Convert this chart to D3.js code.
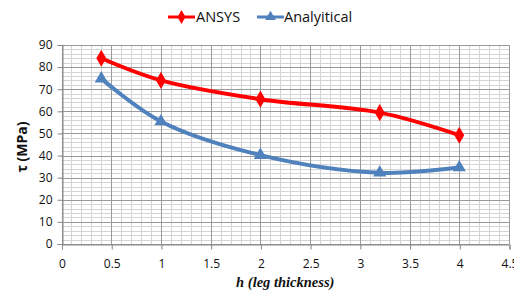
<!DOCTYPE html>
<html>
<head>
<meta charset="utf-8">
<script src="https://cdn.jsdelivr.net/npm/d3@7"></script>
<style>
body { margin: 0; background: #fff; }
svg { display: block; }
</style>
</head>
<body>
<svg width="514" height="293"></svg>
<script>
var width = 514, height = 293;

var hValues = [0.4, 1, 2, 3.2, 4];
var ansys = [84, 74, 65.5, 59.4, 49.2];
var analytical = [74.8, 55.4, 40.2, 32.2, 34.6];
var seriesNames = ["ANSYS", "Analyitical"];
var xTicks = [0, 0.5, 1, 1.5, 2, 2.5, 3, 3.5, 4, 4.5];
var yTicks = [0, 10, 20, 30, 40, 50, 60, 70, 80, 90];

var margin = {left: 61.5, right: 5, top: 45, bottom: 49};

var svg = d3.select('svg');

var x = d3.scaleLinear().domain([0, 4.5]).range([margin.left, width - margin.right]);
var y = d3.scaleLinear().domain([0, 90]).range([height - margin.bottom, margin.top]);

var g = svg.append('g');

// minor grid
g.selectAll('.vminor').data(d3.range(0, 45.01, 1).map(function(d) { return d / 10; }))
  .enter().append('line')
  .attr('x1', function(d) { return Math.round(x(d)) + 0.5; })
  .attr('x2', function(d) { return Math.round(x(d)) + 0.5; })
  .attr('y1', y(0)).attr('y2', y(90))
  .attr('stroke', '#d4d4d4').attr('stroke-width', 1);

g.selectAll('.hminor').data(d3.range(0, 91, 2))
  .enter().append('line')
  .attr('y1', function(d) { return Math.round(y(d)) + 0.5; })
  .attr('y2', function(d) { return Math.round(y(d)) + 0.5; })
  .attr('x1', x(0)).attr('x2', x(4.5))
  .attr('stroke', '#d4d4d4').attr('stroke-width', 1);

// major grid
g.selectAll('.vmajor').data(xTicks)
  .enter().append('line')
  .attr('x1', function(d) { return Math.round(x(d)) + 0.5; })
  .attr('x2', function(d) { return Math.round(x(d)) + 0.5; })
  .attr('y1', y(0)).attr('y2', y(90))
  .attr('stroke', '#9a9a9a').attr('stroke-width', 1);

g.selectAll('.hmajor').data(yTicks)
  .enter().append('line')
  .attr('y1', function(d) { return Math.round(y(d)) + 0.5; })
  .attr('y2', function(d) { return Math.round(y(d)) + 0.5; })
  .attr('x1', x(0)).attr('x2', x(4.5))
  .attr('stroke', '#9a9a9a').attr('stroke-width', 1);

// axes
var xAxis = d3.axisBottom(x).tickValues(xTicks).tickSize(5).tickFormat(d3.format('~g'));
var yAxis = d3.axisLeft(y).tickValues(yTicks).tickSize(5);

var gx = svg.append('g')
  .attr('transform', 'translate(0.5,' + (Math.round(y(0)) + 0.5) + ')')
  .call(xAxis);
var gy = svg.append('g')
  .attr('transform', 'translate(' + (Math.round(x(0)) + 0.5) + ',0)')
  .call(yAxis);

[gx, gy].forEach(function(a) {
  a.select('.domain').attr('stroke', '#888');
  a.selectAll('.tick line').attr('stroke', '#888');
  a.selectAll('.tick text')
    .attr('font-family', 'Open Sans, sans-serif')
    .attr('font-size', 12)
    .attr('fill', '#111');
});
gx.selectAll('.tick text').attr('dy', '1.3em');
gy.selectAll('.tick text').attr('dx', '-2');

// lines
var line = d3.line()
  .x(function(d) { return x(d[0]); })
  .y(function(d) { return y(d[1]); })
  .curve(d3.curveCatmullRom.alpha(0.5));

var series = [
  {name: seriesNames[0], values: ansys, color: '#ff0000', marker: d3.symbolDiamond},
  {name: seriesNames[1], values: analytical, color: '#4f81bd', marker: d3.symbolTriangle}
];

series.forEach(function(s) {
  var pts = hValues.map(function(h, i) { return [h, s.values[i]]; });
  g.append('path')
    .attr('d', line(pts))
    .attr('fill', 'none')
    .attr('stroke', s.color)
    .attr('stroke-width', 4);
  g.selectAll(null).data(pts).enter().append('path')
    .attr('d', d3.symbol().type(s.marker).size(s.marker === d3.symbolDiamond ? 85 : 75))
    .attr('transform', function(d) { return 'translate(' + x(d[0]) + ',' + y(d[1]) + ')'; })
    .attr('fill', s.color);
});

// legend
var legendPos = [{lx: 168, tx: 196}, {lx: 257, tx: 284}];
series.forEach(function(s, i) {
  var lg = svg.append('g').attr('transform', 'translate(0,17)');
  lg.append('line')
    .attr('x1', legendPos[i].lx).attr('x2', legendPos[i].lx + 27)
    .attr('y1', 0).attr('y2', 0)
    .attr('stroke', s.color).attr('stroke-width', 3);
  lg.append('path')
    .attr('d', d3.symbol().type(s.marker).size(s.marker === d3.symbolDiamond ? 55 : 50))
    .attr('transform', 'translate(' + (legendPos[i].lx + 13.5) + ',0)')
    .attr('fill', s.color);
  lg.append('text')
    .attr('x', legendPos[i].tx).attr('y', 0)
    .attr('dy', '0.36em')
    .attr('font-family', 'Open Sans, sans-serif')
    .attr('font-size', 14.5)
    .attr('fill', '#111')
    .text(s.name);
});

// axis titles
svg.append('text')
  .attr('transform', 'translate(22,147) rotate(-90)')
  .attr('text-anchor', 'middle')
  .attr('dy', '0.35em')
  .attr('font-family', 'Open Sans, sans-serif')
  .attr('font-weight', 'bold')
  .attr('font-size', 14)
  .attr('fill', '#111')
  .text('τ (MPa)');

svg.append('text')
  .attr('x', (x(0) + x(4.5)) / 2)
  .attr('y', 287)
  .attr('text-anchor', 'middle')
  .attr('font-family', 'Liberation Serif, serif')
  .attr('font-weight', 'bold')
  .attr('font-style', 'italic')
  .attr('font-size', 14.5)
  .attr('fill', '#111')
  .text('h (leg thickness)');
</script>
</body>
</html>
